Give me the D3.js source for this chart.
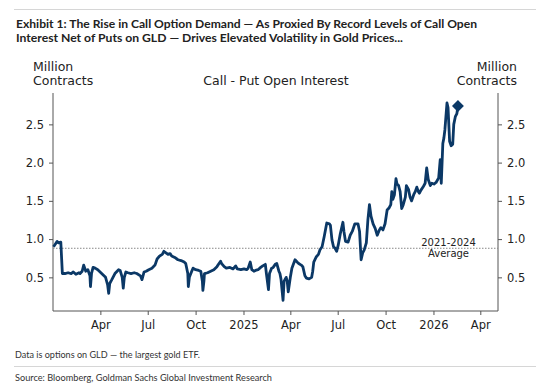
<!DOCTYPE html>
<html>
<head>
<meta charset="utf-8">
<script src="https://cdn.jsdelivr.net/npm/d3@7"></script>
<style>
  html, body { margin: 0; padding: 0; background: #fff; }
  svg { display: block; }
</style>
</head>
<body>
<div id="chart"></div>
<script>
// Call - Put open interest on GLD, million contracts
const dates = [
  '2024-01-02','2024-01-05','2024-01-09','2024-01-12','2024-01-16','2024-01-19','2024-01-24','2024-01-30',
  '2024-02-05','2024-02-09','2024-02-14','2024-02-20','2024-02-22','2024-02-26','2024-02-29','2024-03-04',
  '2024-03-08','2024-03-12','2024-03-13','2024-03-15','2024-03-18','2024-03-22','2024-03-27','2024-04-02',
  '2024-04-08','2024-04-11','2024-04-15','2024-04-17','2024-04-19','2024-04-23','2024-04-29','2024-05-06',
  '2024-05-09','2024-05-13','2024-05-15','2024-05-17','2024-05-20','2024-05-24','2024-05-30','2024-06-05',
  '2024-06-10','2024-06-17','2024-06-20','2024-06-24','2024-06-28','2024-07-03','2024-07-09','2024-07-15',
  '2024-07-19','2024-07-24','2024-07-29','2024-08-01','2024-08-05','2024-08-09','2024-08-13','2024-08-16',
  '2024-08-22','2024-08-28','2024-09-03','2024-09-09','2024-09-12','2024-09-16','2024-09-17','2024-09-19',
  '2024-09-23','2024-09-26','2024-10-01','2024-10-07','2024-10-11','2024-10-14','2024-10-15','2024-10-17',
  '2024-10-18','2024-10-24','2024-10-30','2024-11-05','2024-11-11','2024-11-15','2024-11-18','2024-11-20',
  '2024-11-25','2024-11-29','2024-12-06','2024-12-12','2024-12-17','2024-12-20','2024-12-27','2025-01-02',
  '2025-01-07','2025-01-10','2025-01-14','2025-01-17','2025-01-21','2025-01-24','2025-01-29','2025-02-03',
  '2025-02-07','2025-02-12','2025-02-14','2025-02-18','2025-02-20','2025-02-24','2025-02-27','2025-03-03',
  '2025-03-06','2025-03-10','2025-03-12','2025-03-14','2025-03-18','2025-03-20','2025-03-24','2025-03-26',
  '2025-03-28','2025-04-01','2025-04-04','2025-04-10','2025-04-14','2025-04-17','2025-04-22','2025-04-25',
  '2025-04-29','2025-05-02','2025-05-07','2025-05-12','2025-05-14','2025-05-16','2025-05-21','2025-05-25',
  '2025-05-28','2025-06-01','2025-06-05','2025-06-10','2025-06-15','2025-06-17','2025-06-20','2025-06-23',
  '2025-06-26','2025-06-29','2025-07-02','2025-07-06','2025-07-11','2025-07-13','2025-07-16','2025-07-21',
  '2025-07-25','2025-07-29','2025-08-03','2025-08-09','2025-08-12','2025-08-15','2025-08-18','2025-08-21',
  '2025-08-25','2025-08-28','2025-08-31','2025-09-03','2025-09-07','2025-09-11','2025-09-15','2025-09-19',
  '2025-09-22','2025-09-26','2025-09-30','2025-10-04','2025-10-08','2025-10-11','2025-10-13','2025-10-15',
  '2025-10-18','2025-10-21','2025-10-23','2025-10-26','2025-10-29','2025-11-01','2025-11-04','2025-11-08',
  '2025-11-10','2025-11-14','2025-11-17','2025-11-20','2025-11-24','2025-11-27','2025-11-30','2025-12-03',
  '2025-12-05','2025-12-08','2025-12-12','2025-12-16','2025-12-19','2025-12-22','2025-12-26','2025-12-29',
  '2026-01-02','2026-01-06','2026-01-11','2026-01-14','2026-01-16','2026-01-19','2026-01-21','2026-01-23',
  '2026-01-27','2026-01-29','2026-02-01','2026-02-04','2026-02-07','2026-02-09','2026-02-12','2026-02-15',
  '2026-02-17'
];
const callPutOI = [
  0.90, 0.93, 0.97, 0.95, 0.96, 0.55, 0.55, 0.56,
  0.55, 0.57, 0.54, 0.56, 0.55, 0.58, 0.66, 0.58,
  0.60, 0.52, 0.38, 0.55, 0.63, 0.62, 0.60, 0.56,
  0.52, 0.50, 0.40, 0.29, 0.42, 0.47, 0.55, 0.60,
  0.59, 0.50, 0.36, 0.50, 0.57, 0.56, 0.55, 0.56,
  0.55, 0.52, 0.47, 0.57, 0.58, 0.60, 0.62, 0.66,
  0.74, 0.78, 0.80, 0.84, 0.82, 0.80, 0.81, 0.78,
  0.76, 0.73, 0.72, 0.70, 0.68, 0.55, 0.38, 0.50,
  0.57, 0.62, 0.60, 0.59, 0.58, 0.45, 0.33, 0.45,
  0.55, 0.56, 0.58, 0.60, 0.64, 0.68, 0.71, 0.68,
  0.64, 0.62, 0.63, 0.61, 0.65, 0.61, 0.60, 0.61,
  0.60, 0.62, 0.70, 0.60, 0.58, 0.59, 0.60, 0.63,
  0.65, 0.67, 0.55, 0.34, 0.55, 0.62, 0.63, 0.67,
  0.68, 0.58, 0.55, 0.48, 0.20, 0.45, 0.50, 0.45,
  0.31, 0.50, 0.62, 0.73, 0.70, 0.68, 0.66, 0.64,
  0.52, 0.49, 0.48, 0.50, 0.58, 0.70, 0.77, 0.80,
  0.86, 0.90, 1.03, 1.21, 1.20, 1.18, 0.99, 0.90,
  0.88, 0.84, 0.92, 1.07, 1.22, 1.10, 0.97, 0.96,
  1.05, 1.10, 1.20, 1.20, 1.10, 0.73, 0.82, 0.86,
  0.95, 1.25, 1.45, 1.30, 1.20, 1.14, 1.05, 1.12,
  1.15, 1.12, 1.20, 1.38, 1.41, 1.45, 1.62, 1.52,
  1.58, 1.79, 1.72, 1.70, 1.62, 1.40, 1.45, 1.55,
  1.70, 1.65, 1.55, 1.50, 1.58, 1.62, 1.68, 1.62,
  1.60, 1.64, 1.68, 1.73, 1.93, 1.78, 1.70, 1.73,
  1.72, 1.74, 1.80, 2.04, 1.73, 2.25, 2.32, 2.43,
  2.78, 2.72, 2.28, 2.22, 2.24, 2.50, 2.60, 2.64,
  2.74
];
const avg2021to2024 = 0.88;
const xTickDates = ['2024-04-01','2024-07-01','2024-10-01','2025-01-01','2025-04-01','2025-07-01','2025-10-01','2026-01-01','2026-04-01'];
const xTickLabels = ['Apr','Jul','Oct','2025','Apr','Jul','Oct','2026','Apr'];
const yTicks = [0.5, 1.0, 1.5, 2.0, 2.5];

const width = 536, height = 388;
const plotL = 53, plotR = 498, plotT = 93, plotB = 311;
const navy = '#0b3866';
const axisCol = '#555';
const parse = d3.timeParse('%Y-%m-%d');

const data = dates.map((d, i) => ({ date: parse(d), value: callPutOI[i] }));

const svg = d3.select('#chart').append('svg')
  .attr('width', width)
  .attr('height', height);

const x = d3.scaleTime()
  .domain([parse('2024-01-01'), parse('2026-05-05')])
  .range([plotL, plotR]);
const y = d3.scaleLinear()
  .domain([0.06, 2.91])
  .range([plotB, plotT]);

// header
svg.append('line').attr('x1', 14).attr('x2', 536).attr('y1', 9.5).attr('y2', 9.5)
  .attr('stroke', '#d6d6d6').attr('stroke-width', 1);
const titleLines = [
  ['Exhibit 1: The Rise in Call Option Demand \u2014 As Proxied By Record Levels of Call Open', 461],
  ['Interest Net of Puts on GLD \u2014 Drives Elevated Volatility in Gold Prices...', 387]
];
titleLines.forEach((t, i) => {
  svg.append('text')
    .attr('x', 16).attr('y', 28 + i * 13.5)
    .attr('font-family', 'Lato, "Open Sans", sans-serif')
    .attr('font-weight', 700).attr('font-size', 11)
    .attr('fill', '#222')
    .attr('textLength', t[1]).attr('lengthAdjust', 'spacingAndGlyphs')
    .text(t[0]);
});

// axis labels
const lab = (txt, xx, yy, anchor, size) => svg.append('text')
  .attr('x', xx).attr('y', yy).attr('text-anchor', anchor)
  .attr('font-family', '"DejaVu Sans", sans-serif').attr('font-size', size)
  .attr('fill', '#222').text(txt);
lab('Million', 33, 70.5, 'start', 12.5);
lab('Contracts', 33, 85, 'start', 12.5);
lab('Million', 517, 70.5, 'end', 12.5);
lab('Contracts', 517, 85, 'end', 12.5);
lab('Call - Put Open Interest', 276, 85, 'middle', 12.5);

// axes
const yLeft = svg.append('g').attr('transform', `translate(${plotL},0)`)
  .call(d3.axisLeft(y).tickValues(yTicks).tickFormat(d3.format('.1f')).tickSize(4).tickPadding(5));
const yRight = svg.append('g').attr('transform', `translate(${plotR},0)`)
  .call(d3.axisRight(y).tickValues(yTicks).tickFormat(d3.format('.1f')).tickSize(4).tickPadding(5));
const xAxis = svg.append('g').attr('transform', `translate(0,${plotB})`)
  .call(d3.axisBottom(x).tickValues(xTickDates.map(parse))
    .tickFormat((d, i) => xTickLabels[i]).tickSize(4).tickPadding(6));

[yLeft, yRight, xAxis].forEach(g => {
  g.select('.domain').attr('stroke', axisCol).attr('stroke-width', 1);
  g.selectAll('.tick line').attr('stroke', axisCol);
  g.selectAll('.tick text').attr('font-family', '"DejaVu Sans", sans-serif')
    .attr('font-size', 11.5).attr('fill', '#222');
});
// matplotlib-style spines: no outer tick caps
yLeft.select('.domain').attr('d', `M0,${plotT}V${plotB}`);
yRight.select('.domain').attr('d', `M0,${plotT}V${plotB}`);
xAxis.select('.domain').attr('d', `M${plotL},0H${plotR}`);

// 2021-2024 average
svg.append('line')
  .attr('x1', plotL).attr('x2', plotR)
  .attr('y1', y(avg2021to2024)).attr('y2', y(avg2021to2024))
  .attr('stroke', '#888').attr('stroke-width', 1).attr('stroke-dasharray', '1.5,1.5');
lab('2021-2024', 448.5, y(avg2021to2024) - 2, 'middle', 10);
lab('Average', 448.5, y(avg2021to2024) + 8.5, 'middle', 10);

// series
const line = d3.line().x(d => x(d.date)).y(d => y(d.value));
svg.append('path').datum(data)
  .attr('d', line)
  .attr('fill', 'none')
  .attr('stroke', navy)
  .attr('stroke-width', 2.8)
  .attr('stroke-linejoin', 'round');

const last = data[data.length - 1];
svg.append('path')
  .attr('d', d3.symbol(d3.symbolDiamond2, 90)())
  .attr('transform', `translate(${x(last.date)},${y(last.value)})`)
  .attr('fill', navy);

// footer
const foot = (txt, yy, w) => svg.append('text')
  .attr('x', 15).attr('y', yy)
  .attr('font-family', 'Lato, "Open Sans", sans-serif').attr('font-size', 8.5)
  .attr('fill', '#333')
  .attr('textLength', w).attr('lengthAdjust', 'spacingAndGlyphs')
  .text(txt);
foot('Data is options on GLD \u2014 the largest gold ETF.', 358, 185);
svg.append('line').attr('x1', 14).attr('x2', 536).attr('y1', 366.5).attr('y2', 366.5)
  .attr('stroke', '#d6d6d6').attr('stroke-width', 1);
foot('Source: Bloomberg, Goldman Sachs Global Investment Research', 381, 257);
</script>
</body>
</html>
